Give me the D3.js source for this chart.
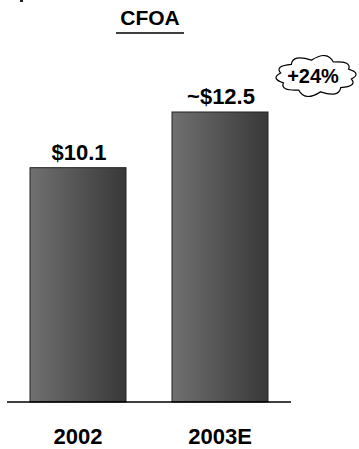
<!DOCTYPE html>
<html>
<head>
<meta charset="utf-8">
<script src="https://cdn.jsdelivr.net/npm/d3@7"></script>
<style>
  body { margin: 0; background: #fff; }
  svg { display: block; font-family: Arial, "Liberation Sans", sans-serif; font-weight: bold; }
</style>
</head>
<body>
<div id="chart"></div>
<script>
// chart data
var categories = ["2002", "2003E"];
var values = [10.1, 12.5];
var valueLabels = ["$10.1", "~$12.5"];
var chartTitle = "CFOA";
var growthLabel = "+24%";

function draw_bars(divName) {
  d3.selectAll("#" + divName + " > *").remove();
  var width = 359, height = 449;

  var svg = d3.select("#" + divName)
    .append("svg")
      .attr("width", width)
      .attr("height", height);

  // bar gradient, lighter on the left
  var grad = svg.append("defs").append("linearGradient")
      .attr("id", "barGrad")
      .attr("x1", "0%").attr("x2", "100%")
      .attr("y1", "0%").attr("y2", "0%");
  grad.append("stop").attr("offset", "0%").attr("stop-color", "#707070");
  grad.append("stop").attr("offset", "100%").attr("stop-color", "#383838");

  var x = d3.scaleBand()
    .domain(categories)
    .range([7, 291])
    .paddingInner(0.324)
    .paddingOuter(0.162);

  var y = d3.scaleLinear()
    .domain([0, 12.5])
    .range([402, 112]);

  // title + underline
  svg.append("text")
    .attr("x", 150)
    .attr("y", 25)
    .attr("text-anchor", "middle")
    .style("font-size", "21px")
    .text(chartTitle);
  svg.append("line")
    .attr("x1", 116).attr("x2", 184)
    .attr("y1", 33).attr("y2", 33)
    .attr("stroke", "#000")
    .attr("stroke-width", 1.3);

  // bars
  svg.selectAll("rect.bar")
    .data(values)
    .enter()
    .append("rect")
      .attr("class", "bar")
      .attr("x", function(d, i) { return x(categories[i]); })
      .attr("y", function(d) { return y(d); })
      .attr("width", x.bandwidth())
      .attr("height", function(d) { return y(0) - y(d); })
      .attr("fill", "url(#barGrad)")
      .attr("stroke", "#222")
      .attr("stroke-width", 1);

  // value labels
  svg.selectAll("text.val")
    .data(values)
    .enter()
    .append("text")
      .attr("class", "val")
      .attr("x", function(d, i) { return x(categories[i]) + x.bandwidth() / 2 + 1; })
      .attr("y", function(d) { return y(d) - 8; })
      .attr("text-anchor", "middle")
      .style("font-size", "22px")
      .text(function(d, i) { return valueLabels[i]; });

  // baseline
  svg.append("line")
    .attr("x1", 7).attr("x2", 291)
    .attr("y1", y(0)).attr("y2", y(0))
    .attr("stroke", "#000")
    .attr("stroke-width", 1.5);

  // category labels
  svg.selectAll("text.cat")
    .data(categories)
    .enter()
    .append("text")
      .attr("class", "cat")
      .attr("x", function(d) { return x(d) + x.bandwidth() / 2; })
      .attr("y", 444)
      .attr("text-anchor", "middle")
      .style("font-size", "22px")
      .text(function(d) { return d; });

  // growth cloud next to the last bar
  var cx = 316, cy = 76, rx = 36, ry = 16, bumps = 10;
  var pts = [];
  for (var i = 0; i < bumps; i++) {
    var a = (i + 0.3) / bumps * 2 * Math.PI;
    pts.push([cx + rx * Math.cos(a), cy + ry * Math.sin(a)]);
  }
  var p = d3.path();
  p.moveTo(pts[0][0], pts[0][1]);
  for (var i = 0; i < bumps; i++) {
    var p1 = pts[i], p2 = pts[(i + 1) % bumps];
    var mx = (p1[0] + p2[0]) / 2, my = (p1[1] + p2[1]) / 2;
    var nx = mx - cx, ny = my - cy;
    var len = Math.sqrt(nx * nx + ny * ny);
    var bulge = 12;
    p.quadraticCurveTo(mx + nx / len * bulge, my + ny / len * bulge, p2[0], p2[1]);
  }
  p.closePath();
  svg.append("path")
    .attr("d", p.toString())
    .attr("fill", "#fff")
    .attr("stroke", "#000")
    .attr("stroke-width", 1.2);

  svg.append("text")
    .attr("x", cx - 3)
    .attr("y", cy + 7)
    .attr("text-anchor", "middle")
    .style("font-size", "20px")
    .text(growthLabel);

  // cut-off mark at the top-left corner
  svg.append("rect")
    .attr("x", 20).attr("y", 0)
    .attr("width", 3).attr("height", 2)
    .attr("fill", "#222");
}

draw_bars("chart");
</script>
</body>
</html>
